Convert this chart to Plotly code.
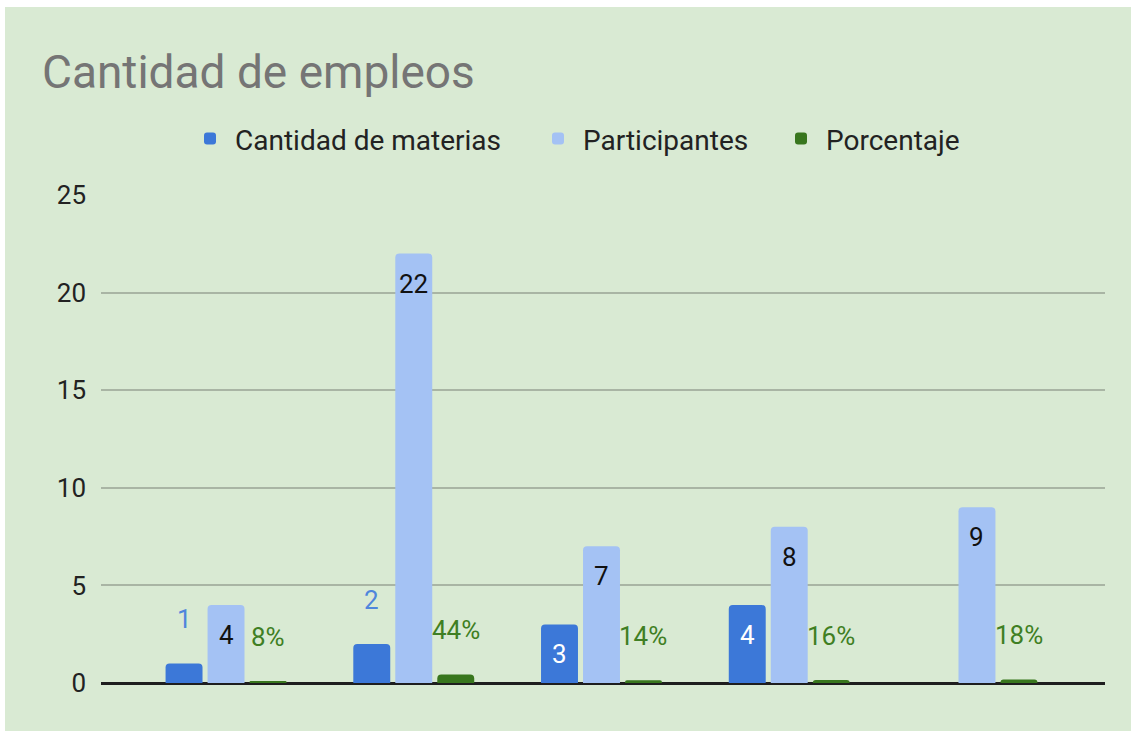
import plotly.graph_objects as go

categories = [0, 1, 2, 3, 4]
materias = [1, 2, 3, 4, None]
participantes = [4, 22, 7, 8, 9]
porcentaje = [0.08, 0.44, 0.14, 0.16, 0.18]
porcentaje_labels = ["8%", "44%", "14%", "16%", "18%"]
y_ticks = [0, 5, 10, 15, 20, 25]

C_BLUE = "#3c78d8"
C_LIGHT = "#a4c2f4"
C_GREEN = "#38761d"
BG = "#d9ead3"
FONT = "Roboto, Arial, sans-serif"

W, H = 1131, 731
L, R, T, B = 101, 26, 195, 48
PW, PH = W - L - R, H - T - B

BARGAP = 0.329
BARGROUPGAP = 0.12
slot = (1 - BARGAP) / 3

fig = go.Figure()
fig.add_trace(go.Bar(x=categories, y=materias, name="Cantidad de materias",
                     marker=dict(color=C_BLUE, line=dict(width=0)), legend="legend"))
fig.add_trace(go.Bar(x=categories, y=participantes, name="Participantes",
                     marker=dict(color=C_LIGHT, line=dict(width=0)), legend="legend2"))
fig.add_trace(go.Bar(x=categories, y=porcentaje, name="Porcentaje",
                     marker=dict(color=C_GREEN, line=dict(width=0)), legend="legend3"))

annotations = []
lab_font = 26

def add_label(x, y, text, color, inside):
    annotations.append(dict(
        x=x, y=y, xref="x", yref="y", text=text, showarrow=False,
        xanchor="center", yanchor="middle",
        yshift=-30 if inside else 44,
        font=dict(family=FONT, size=lab_font, color=color)))

for c, v in zip(categories, materias):
    if v is None:
        continue
    inside = v >= 3
    add_label(c - slot, v, str(v), "#ffffff" if inside else "#4f86dc", inside)
for c, v in zip(categories, participantes):
    add_label(c, v, str(v), "#111111", True)
for c, v, t in zip(categories, porcentaje, porcentaje_labels):
    add_label(c + slot, v, t, "#3f7f23", False)

def legend_at(text_x):
    return dict(orientation="h", x=(text_x - 50 - L) / PW, xanchor="left",
                y=1.115, yanchor="middle",
                font=dict(family=FONT, size=28, color="#222222"),
                itemwidth=40, bgcolor="rgba(0,0,0,0)")

fig.update_layout(
    width=W, height=H,
    showlegend=True,
    paper_bgcolor="#ffffff",
    plot_bgcolor="rgba(0,0,0,0)",
    margin=dict(l=L, r=R, t=T, b=B, pad=0),
    barmode="group", bargap=BARGAP, bargroupgap=BARGROUPGAP,
    barcornerradius=4,
    font=dict(family=FONT, color="#222222"),
    title=dict(text="Cantidad de empleos", x=42/W, xanchor="left", xref="container",
               y=1 - 72/H, yanchor="middle", yref="container",
               font=dict(family=FONT, size=46, color="#757575")),
    legend=legend_at(235),
    legend2=legend_at(583),
    legend3=legend_at(826),
    xaxis=dict(range=[-0.666, 4.682], showticklabels=False, showgrid=False,
               zeroline=False, showline=False, ticks=""),
    yaxis=dict(range=[0, 25], tickvals=y_ticks, showgrid=True, gridcolor="#a9b5a4",
               gridwidth=2, zeroline=True, zerolinecolor="#1e1e1e", zerolinewidth=3,
               showline=False, ticks="", ticklabelstandoff=14,
               tickfont=dict(family=FONT, size=26, color="#222222")),
    annotations=annotations,
    shapes=[dict(type="rect", xref="paper", yref="paper",
                 x0=(5 - L) / PW, x1=(W + 20 - L) / PW,
                 y0=-(B + 20) / PH, y1=(PH + T - 7) / PH,
                 fillcolor=BG, line=dict(width=0), layer="below")],
)

fig.write_html("out.html", config={"displayModeBar": False},
               post_script="document.body.style.margin='0';")
